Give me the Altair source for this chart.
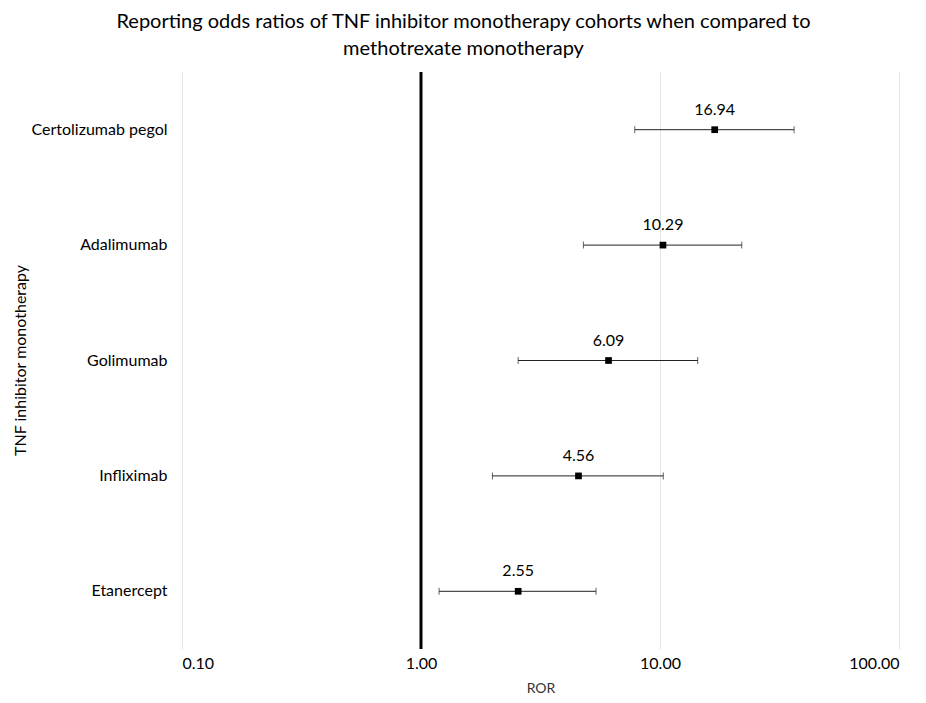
import altair as alt
import pandas as pd

drugs = ["Certolizumab pegol", "Adalimumab", "Golimumab", "Infliximab", "Etanercept"]
ror = [16.94, 10.29, 6.09, 4.56, 2.55]
lower = [7.84, 4.78, 2.55, 1.99, 1.19]
upper = [36.4, 21.98, 14.38, 10.32, 5.40]
x_ticks = [0.1, 1, 10, 100]

df = pd.DataFrame({"drug": drugs, "ror": ror, "lo": lower, "hi": upper,
                   "label": [f"{v:.2f}" for v in ror]})

FONT = "Lato"
xscale = alt.Scale(type="log", domain=[0.1, 100])
yscale = alt.Scale(paddingInner=0, paddingOuter=0)
yenc = alt.Y("drug:N", sort=drugs, title="TNF inhibitor monotherapy", scale=yscale,
             axis=alt.Axis(labelFontSize=16, labelPadding=15, titleFontSize=16,
                           titleFontWeight="normal", titleX=-162, titleY=288,
                           titleAngle=270, titleAlign="center", titleBaseline="middle",
                           ticks=False, domain=False,
                           labelColor="#000", titleColor="#000", labelFont=FONT, titleFont=FONT,
                           labelFontWeight="normal"))

base = alt.Chart(df)

ref = alt.Chart(pd.DataFrame({"v": [1.0]})).mark_rule(color="black", strokeWidth=3).encode(
    x=alt.X("v:Q", scale=xscale))

rules = base.mark_rule(color="#222", strokeWidth=1).encode(
    x=alt.X("lo:Q", scale=xscale, title="ROR",
            axis=alt.Axis(values=x_ticks, format=".2f", labelFontSize=16, titleFontSize=14,
                          titleFontWeight="normal", labelPadding=6, titlePadding=10,
                          ticks=False, domain=False, grid=True, gridColor="#e4e4e4",
                          labelColor="#000", titleColor="#333", labelFont=FONT, titleFont=FONT)),
    x2="hi:Q", y=yenc)

caps_lo = base.mark_tick(color="#222", thickness=1, size=7, orient="vertical").encode(
    x=alt.X("lo:Q", scale=xscale), y=alt.Y("drug:N", sort=drugs, scale=yscale))
caps_hi = base.mark_tick(color="#222", thickness=1, size=7, orient="vertical").encode(
    x=alt.X("hi:Q", scale=xscale), y=alt.Y("drug:N", sort=drugs, scale=yscale))

pts = base.mark_square(color="black", size=45, opacity=1, filled=True).encode(
    x=alt.X("ror:Q", scale=xscale), y=alt.Y("drug:N", sort=drugs, scale=yscale))

labels = base.mark_text(font=FONT, fontSize=16, color="#000", dy=-20).encode(
    x=alt.X("ror:Q", scale=xscale), y=alt.Y("drug:N", sort=drugs, scale=yscale), text="label:N")

chart = alt.layer(rules, ref, caps_lo, caps_hi, pts, labels).properties(
    width=717, height=577,
    title=alt.TitleParams(
        ["Reporting odds ratios of TNF inhibitor monotherapy cohorts when compared to",
         "methotrexate monotherapy"],
        fontSize=20, font=FONT, fontWeight="normal", color="#000", anchor="middle",
        dx=-77, offset=12, lineHeight=27),
    autosize=alt.AutoSizeParams(type="none"),
    padding={"left": 174, "top": 64, "right": 19, "bottom": 62},
).configure_view(stroke=None)

chart.save("out.html", embed_options={"renderer": "svg", "actions": False})
